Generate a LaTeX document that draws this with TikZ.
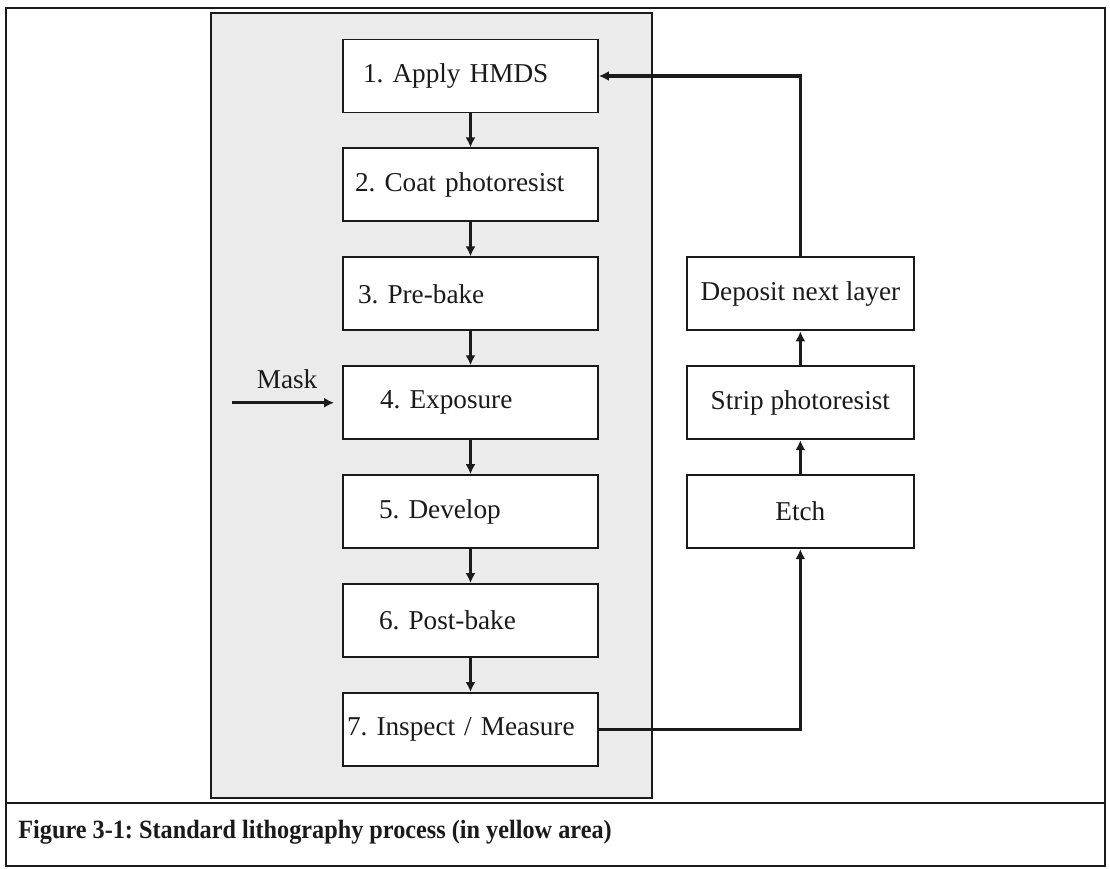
\documentclass[tikz,border=0pt]{standalone}
\usepackage{fontspec}
\setmainfont{Liberation Serif}
\newfontfamily\capfamily[FakeStretch=0.92]{Liberation Serif}
\usetikzlibrary{arrows.meta, positioning}
\definecolor{panel}{HTML}{EBEBEB}
\definecolor{ink}{HTML}{1A1A1A}
\newcommand{\stepfont}{\fontsize{15.5}{18}\selectfont}
\newcommand{\capfont}{\capfamily\fontsize{15}{18}\selectfont\bfseries}
\frenchspacing

\begin{document}
\begin{tikzpicture}[x=0.02cm, y=-0.02cm, font=\stepfont, >={Latex[length=2mm, width=2mm]},
    stepbox/.style={draw=ink, line width=1.1pt, fill=white, text=ink, minimum width=5.1cm, minimum height=1.46cm,
      text width=5.1cm, inner xsep=0pt, align=left},
    loopbox/.style={draw=ink, line width=1.1pt, fill=white, text=ink, minimum width=4.54cm, minimum height=1.46cm, align=center},
    flow/.style={->, draw=ink, line width=2pt}]

  \useasboundingbox (0,0) rectangle (1110,869);

  % frame and yellow (grey) area
  \draw[ink, line width=1pt] (6,8) rectangle (1105,866);
  \draw[ink, line width=1pt] (6,803) -- (1105,803);
  \filldraw[fill=panel, draw=ink, line width=1.1pt] (211,13) rectangle (652,798);

  % lithography steps
  \node[stepbox] (s1) at (470.5,76) {\hspace*{0.4cm}1. Apply HMDS};
  \node[stepbox, below=0.68cm of s1] (s2) {\hspace*{0.24cm}2. Coat photoresist};
  \node[stepbox, below=0.68cm of s2] (s3) {\hspace*{0.3cm}3. Pre-bake};
  \node[stepbox, below=0.68cm of s3] (s4) {\hspace*{0.74cm}4. Exposure};
  \node[stepbox, below=0.68cm of s4] (s5) {\hspace*{0.72cm}5. Develop};
  \node[stepbox, below=0.68cm of s5] (s6) {\hspace*{0.72cm}6. Post-bake};
  \node[stepbox, below=0.68cm of s6] (s7) {\hspace*{0.08cm}7. Inspect / Measure};

  % next layer loop
  \node[loopbox, right=1.74cm of s3] (dep) {Deposit next layer};
  \node[loopbox, right=1.74cm of s4] (strip) {Strip photoresist};
  \node[loopbox, right=1.74cm of s5] (etch) {Etch};

  \foreach \a/\b in {s1/s2, s2/s3, s3/s4, s4/s5, s5/s6, s6/s7}
    \draw[flow] (\a) -- (\b);

  \draw[flow] (etch) -- (strip);
  \draw[flow] (strip) -- (dep);
  \draw[flow] (s7) -| (etch);
  \draw[flow] (dep) |- (s1);

  \coordinate[left=2.2cm of s4] (mk);
  \draw[flow, shorten >=0.16cm] (mk) -- node[above=0.12cm, text=ink] (mask) {Mask} (s4);

  \node[anchor=base west, inner sep=0pt, font=\capfont, text=ink] (cap) at (18,838)
    {Figure 3-1: Standard lithography process (in yellow area)};
\end{tikzpicture}
\end{document}
